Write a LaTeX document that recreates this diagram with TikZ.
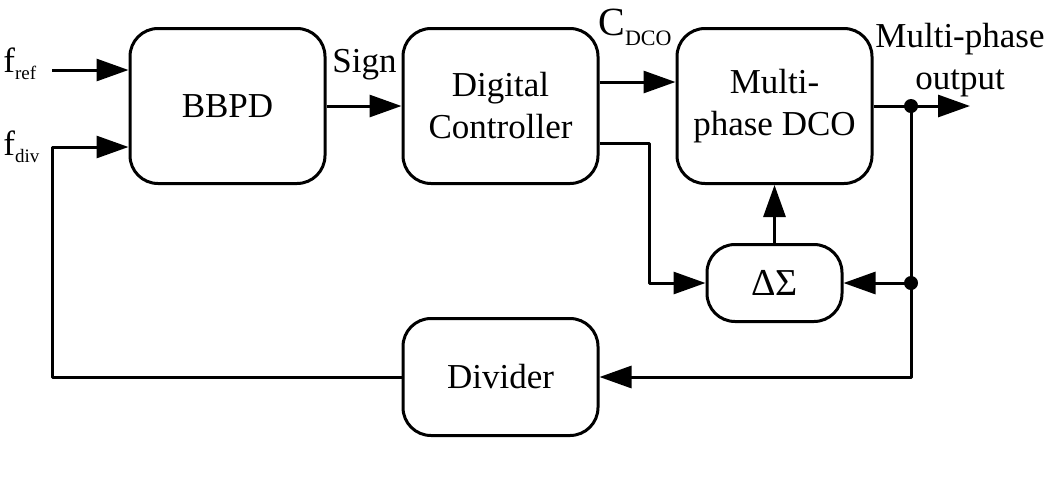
\documentclass[tikz,border=0pt]{standalone}
\usepackage{fontspec}
\setmainfont{Liberation Serif}
\usetikzlibrary{arrows.meta}
\tikzset{
  blk/.style={draw, line width=1.5pt, rounded corners=14pt, align=center,
    minimum width=97.5pt, minimum height=77.5pt, font=\fontsize{17.5}{21}\selectfont},
  sig/.style={line width=1.5pt, -{Triangle[length=16pt,width=11pt]}},
  lbl/.style={inner sep=0pt, font=\fontsize{17.5}{21}\selectfont},
}
\newcommand{\subtxt}[1]{\raisebox{-3.5pt}{\fontsize{9.5}{10}\selectfont #1}}
\begin{document}
\begin{tikzpicture}[x=0.5pt,y=-0.5pt,line join=round]
				\useasboundingbox (0,0) rectangle (1050,478);
				\node[blk] (bbpd) at (227.5,106) {BBPD};
				\node[blk] (ctrl) at (500.5,106) {Digital\\Controller};
				\node[blk] (dco) at (774.5,106) {Multi-\\phase DCO};
				\node[blk, minimum width=67.5pt, minimum height=38.5pt, font=\fontsize{19}{21}\selectfont] (ds) at (774.5,283) {ΔΣ};
				\node[blk, minimum height=58.5pt] (div) at (500.5,377) {Divider};
				\coordinate (fref) at (52,70);
				\coordinate (fdiv) at (52,147);
				\coordinate (j1) at (dco.east -| 911,0);
				\coordinate (j2) at (ds.east -| 911,0);
				\coordinate (out) at (dco.east -| 970,0);
				\draw[sig] (fref) -- (fref -| bbpd.west);
				\draw[sig] (div.west) -| (fdiv) -- (fdiv -| bbpd.west);
				\draw[sig] (bbpd) -- (ctrl);
				\draw[sig] (ctrl.east |- 0,82) -- (dco.west |- 0,82);
				\draw[sig] (ctrl.east |- 0,143) -| ([xshift=-28pt]ds.west) -- (ds.west);
				\draw[sig] (ds) -- (dco);
				\draw[sig] (dco) -- (out);
				\draw[sig] (j1) |- (div.east);
				\draw[sig] (j2) -- (ds.east);
				\fill (j1) circle (3.5pt);
				\fill (j2) circle (3.5pt);
				\node[lbl, anchor=base west] (freflbl) at (3,72) {f\subtxt{ref}};
				\node[lbl, anchor=base west] (fdivlbl) at (3,155) {f\subtxt{div}};
				\node[lbl, anchor=base west] (signlbl) at (332,72) {Sign};
				\node[lbl, anchor=base west] (cdcolbl) at (598,35) {\fontsize{20}{20}\selectfont C\raisebox{-5pt}{\fontsize{11}{11}\selectfont DCO}};
				\node[lbl, align=center] (outlbl) at (960,60) {Multi-phase\\output};
			\end{tikzpicture}
\end{document}
